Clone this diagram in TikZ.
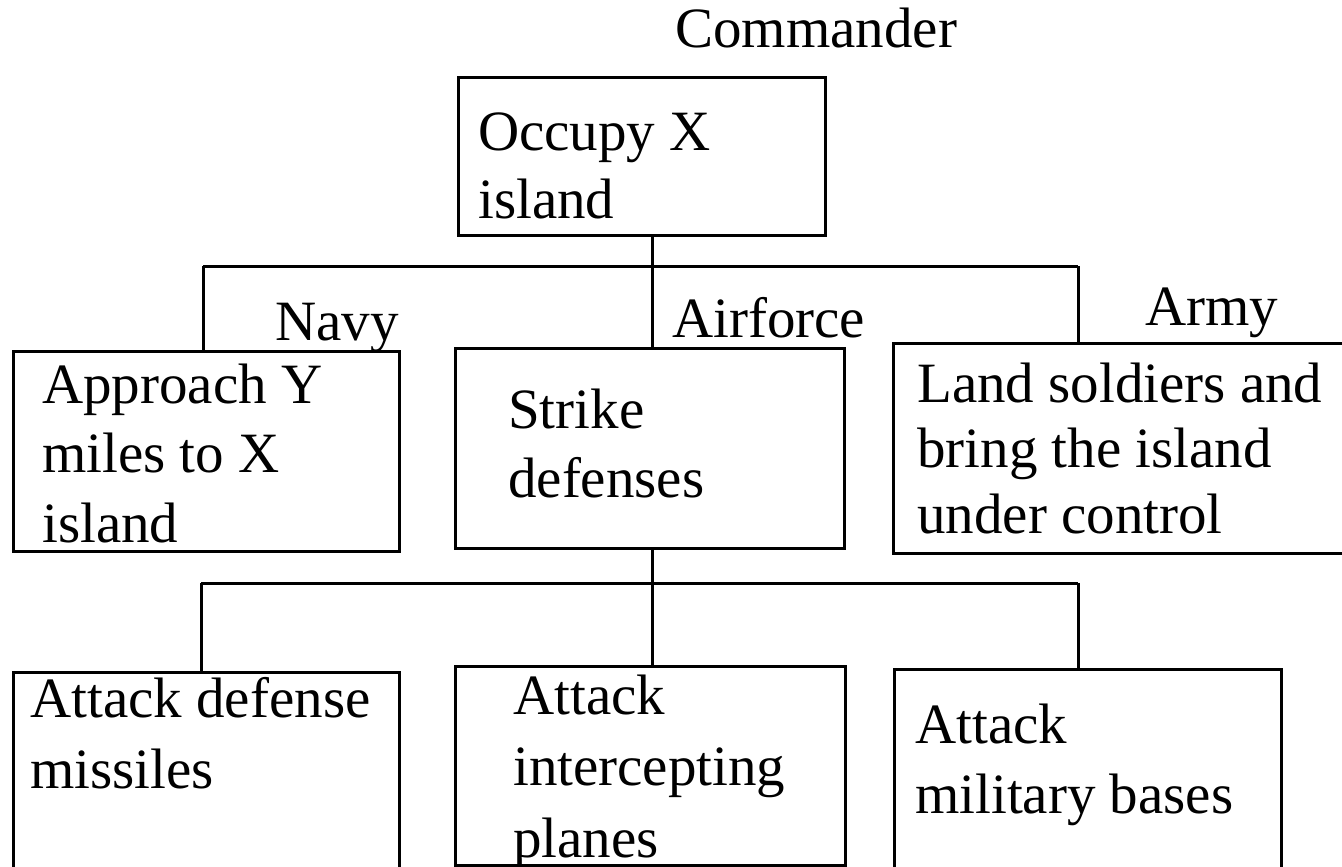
\documentclass[tikz,border=0pt]{standalone}
\usepackage{fontspec}
\setmainfont{Liberation Serif}
\begin{document}
\begin{tikzpicture}[x=1pt,y=-1pt,
  box/.style={draw=black,line width=3pt,rectangle,inner sep=0pt},
  link/.style={draw=black,line width=3pt},
  txt/.style={anchor=base west,inner sep=0pt,font=\fontsize{57}{66}\selectfont,align=left}]
\useasboundingbox (0,0) rectangle (1342,867);

% boxes, given by their corners
\newcommand\boxat[5]{\node[box,minimum width=#4-#2,minimum height=#5-#3,anchor=north west] (#1) at (#2,#3) {};}
\boxat{top}{457}{76}{824}{234}
\boxat{navy}{12}{350}{398}{550}
\boxat{air}{454}{347}{843}{547}
\boxat{missile}{12}{671}{398}{900}
\boxat{planes}{454}{665}{844}{864}
\boxat{bases}{893}{668}{1280}{900}
% the army box runs past the right margin, so its right side is not drawn
\node[box,draw=none,minimum width=500,minimum height=207,anchor=north west] (army) at (893,343) {};
\draw[link] (army.north east) -- (army.north west) -- (army.south west) -- (army.south east);

% first level connectors
\coordinate (j1) at (652,266);
\coordinate (l1) at (203,266);
\coordinate (r1) at (1078,266);
\draw[link] (top.south -| j1) -- (652,350);
\draw[link] (l1) -- (r1);
\draw[link] (l1) -- (l1 |- navy.north);
\draw[link] (r1) -- (r1 |- army.north);

% second level connectors
\coordinate (j2) at (652,583);
\coordinate (l2) at (201,583);
\coordinate (r2) at (1078,583);
\draw[link] (air.south -| j2) -- (652,668);
\draw[link] (l2) -- (r2);
\draw[link] (l2) -- (l2 |- missile.north);
\draw[link] (r2) -- (r2 |- bases.north);

% labels (multi-line texts are placed by the baseline of their last line)
\node[txt] (lcmd) at (675,48) {Commander};
\node[txt,font=\fontsize{57}{68}\selectfont] (t1) at (478,218) {Occupy X\\island};
\node[txt] (lnavy) at (275,340) {Navy};
\node[txt] (lair) at (672,337) {Airforce};
\node[txt] (larmy) at (1145,325) {Army};
\node[txt,font=\fontsize{57}{69.5}\selectfont] (t2) at (42,542) {Approach Y\\miles to X\\island};
\node[txt,font=\fontsize{57}{69}\selectfont] (t3) at (508,497) {Strike\\defenses};
\node[txt,font=\fontsize{57}{65.5}\selectfont] (t4) at (917,533) {Land soldiers and\\bring the island\\under control};
\node[txt,font=\fontsize{57}{71}\selectfont] (t5) at (30,788) {Attack defense\\missiles};
\node[txt,font=\fontsize{57}{71.5}\selectfont] (t6) at (513,857) {Attack\\intercepting\\planes};
\node[txt,font=\fontsize{57}{70}\selectfont] (t7) at (915,813) {Attack\\military bases};
\end{tikzpicture}
\end{document}
